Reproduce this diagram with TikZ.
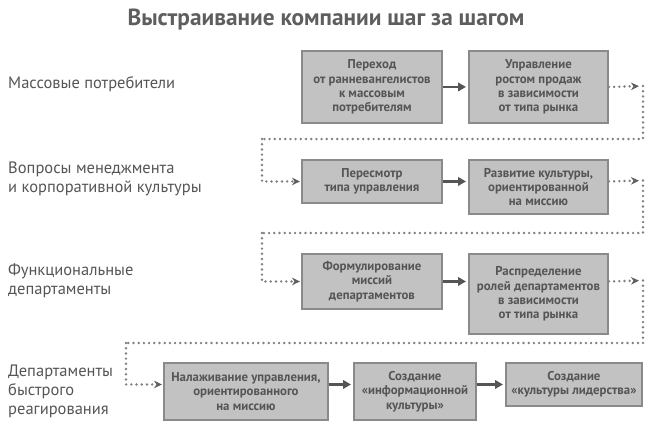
\documentclass[tikz,border=0pt]{standalone}
\usepackage{fontspec}
\setmainfont{PT Sans}
\usetikzlibrary{arrows.meta}
\definecolor{boxfill}{HTML}{C2C2C2}
\definecolor{boxline}{HTML}{8A8A8A}
\definecolor{txt}{HTML}{555555}
\definecolor{ttl}{HTML}{5E5E5E}
\definecolor{arr}{HTML}{555555}
\definecolor{dots}{HTML}{808080}
\definecolor{dottip}{HTML}{606060}
\tikzset{
  stepbox/.style={draw=boxline, fill=boxfill, line width=1.9pt, text=txt,
    font=\bfseries\fontsize{12.8}{14.3}\selectfont, align=center,
    anchor=north west, inner sep=0pt},
  lbl/.style={anchor=west, align=left, text=txt, inner sep=0pt,
    font=\fontsize{16.5}{19}\selectfont},
  flow/.style={draw=arr, line width=2.6pt, shorten >=2pt,
    -{Triangle[length=8pt,width=8.5pt]}},
  dotline/.style={draw=dots, line width=2.7pt, line cap=round,
    dash pattern=on 0pt off 5.2pt},
  dottip/.style={-{Stealth[length=8pt,width=7.5pt,inset=2.5pt,color=dottip]}},
}
\begin{document}
\begin{tikzpicture}[x=1pt,y=-1pt]
\useasboundingbox (0,0) rectangle (650,424);
\node[anchor=center, text=ttl, font=\bfseries\fontsize{23.3}{27}\selectfont, inner sep=0pt] (title) at (326,20) {Выстраивание компании шаг за шагом};

\node[lbl] (L1) at (8,84) {Массовые потребители};
\node[lbl] (L2) at (8,179) {Вопросы менеджмента\\и корпоративной культуры};
\node[lbl] (L3) at (8,281) {Функциональные\\департаменты};
\node[lbl] (L4) at (8,391) {Департаменты\\быстрого\\реагирования};

\node[stepbox, minimum width=140pt, minimum height=72pt] (b1) at (301,50) {Переход\\от ранневангелистов\\к массовым\\потребителям};
\node[stepbox, minimum width=139pt, minimum height=72pt] (b2) at (468,50) {Управление\\ростом продаж\\в зависимости\\от типа рынка};
\node[stepbox, minimum width=140pt, minimum height=43pt] (b3) at (301,159) {Пересмотр\\типа управления};
\node[stepbox, minimum width=139pt, minimum height=54pt] (b4) at (468,159) {Развитие культуры,\\ориентированной\\на миссию};
\node[stepbox, minimum width=140pt, minimum height=55pt] (b5) at (301,253) {Формулирование\\миссий\\департаментов};
\node[stepbox, minimum width=139pt, minimum height=80pt] (b6) at (468,253) {Распределение\\ролей департаментов\\в зависимости\\от типа рынка};
\node[stepbox, minimum width=164pt, minimum height=57pt] (b7) at (163,362) {Налаживание управления,\\ориентированного\\на миссию};
\node[stepbox, minimum width=122pt, minimum height=57pt] (b8) at (353,362) {Создание\\«информационной\\культуры»};
\node[stepbox, minimum width=136pt, minimum height=43pt] (b9) at (505,362) {Создание\\«культуры лидерства»};

% solid arrows
\draw[flow] (b1.east) -- (b2.west);
\draw[flow] (b3.east) -- (b3.east -| b4.west);
\draw[flow] (b5.east) -- (b5.east -| b6.west);
\draw[flow] (b7.east |- b9.west) -- (b8.west |- b9.west);
\draw[flow] (b8.east |- b9.west) -- (b9.west);

% dotted connectors
\coordinate (r1) at (643,86);
\coordinate (l1) at (262,139);
\coordinate (r2) at (643,180.5);
\coordinate (l2) at (262,233);
\coordinate (r3) at (643,280.5);
\coordinate (l3) at (126,343);

\draw[dotline, dottip, shorten >=4pt] (b2.east) -- (r1);
\draw[dotline] (r1) |- (l1);
\draw[dotline, dottip, shorten >=1pt] (l1) |- (b3.west);

\draw[dotline, dottip, shorten >=4pt] (b3.east -| b4.east) -- (r2);
\draw[dotline] (r2) |- (l2);
\draw[dotline, dottip, shorten >=1pt] (l2) |- (b5.west);

\draw[dotline, dottip, shorten >=4pt] (b5.east -| b6.east) -- (r3);
\draw[dotline] (r3) |- (l3);
\draw[dotline, dottip, shorten >=1pt] (l3) |- (b7.west |- b9.west);
\end{tikzpicture}
\end{document}
